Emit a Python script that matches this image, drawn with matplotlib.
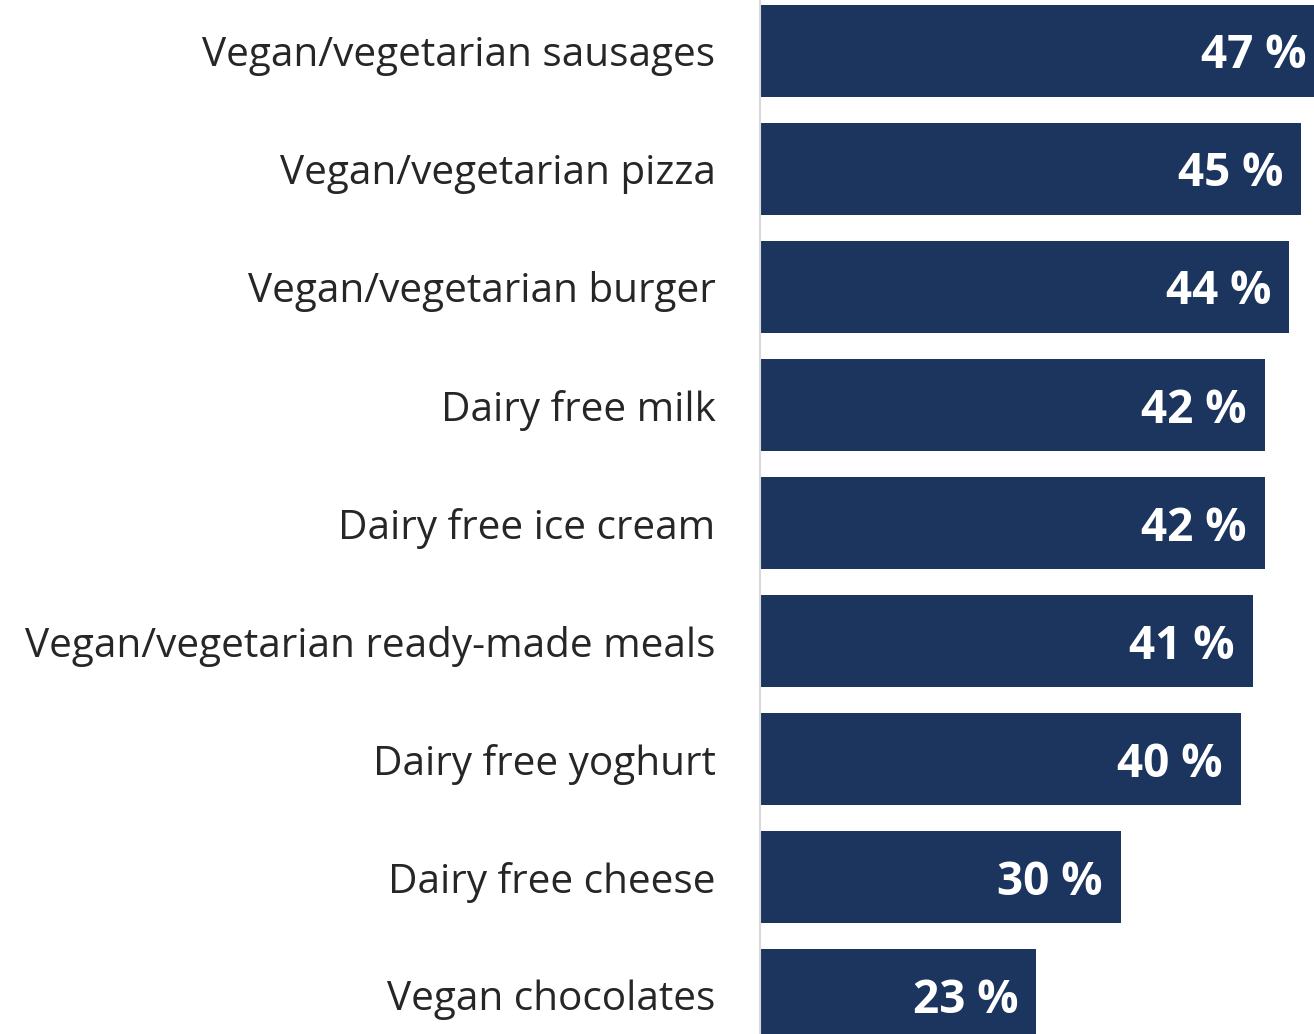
import matplotlib.pyplot as plt

categories = [
    "Vegan/vegetarian sausages",
    "Vegan/vegetarian pizza",
    "Vegan/vegetarian burger",
    "Dairy free milk",
    "Dairy free ice cream",
    "Vegan/vegetarian ready-made meals",
    "Dairy free yoghurt",
    "Dairy free cheese",
    "Vegan chocolates",
]
values = [47, 45, 44, 42, 42, 41, 40, 30, 23]

bar_color = "#1c355e"

plt.rcParams["font.family"] = ["Open Sans", "DejaVu Sans"]

fig = plt.figure(figsize=(13.14, 10.34), dpi=100)
ax = fig.add_axes([760 / 1314, 0, 1 - 760 / 1314, 1])

pos = list(range(len(categories)))
ax.barh(pos, values, height=0.78, color=bar_color)

# bar labels, right aligned inside the bar
for p, v in zip(pos, values):
    ax.annotate(f"{v} %", xy=(v, p), xytext=(-18, -5), textcoords="offset pixels",
                ha="right", va="center", color="white", fontsize=33,
                fontweight="bold", annotation_clip=False)

ax.set_xlim(0, 554 / 12.02)
ax.set_ylim(8.33, -0.432)
ax.set_yticks(pos)
ax.set_yticklabels(categories, fontsize=29.2, color="#262626")
ax.tick_params(axis="y", length=0, pad=32)
ax.set_xticks([])

for s in ["top", "right", "bottom"]:
    ax.spines[s].set_visible(False)
ax.spines["left"].set_color("#d9d9d9")
ax.spines["left"].set_linewidth(1.5)

fig.savefig("out.png", dpi=100)
